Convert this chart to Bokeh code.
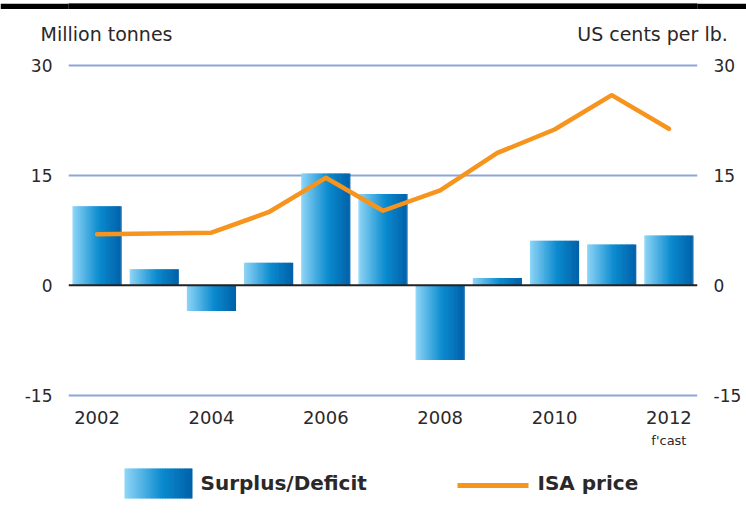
from bokeh.plotting import figure
from bokeh.models import (Range1d, LinearAxis, FixedTicker, Span,
                          ColumnDataSource)
from bokeh.core.properties import value
from bokeh.layouts import column
from bokeh.embed import file_html
from bokeh.resources import INLINE

# ---- data ----
years = [2002, 2003, 2004, 2005, 2006, 2007, 2008, 2009, 2010, 2011, 2012]
surplus = [10.8, 2.2, -3.5, 3.1, 15.3, 12.5, -10.2, 1.0, 6.1, 5.6, 6.8]
isa_price = [7.0, 7.1, 7.2, 10.0, 14.7, 10.2, 13.0, 18.1, 21.3, 26.0, 21.4]
y_ticks = [-15, 0, 15, 30]
x_ticks = [2002, 2004, 2006, 2008, 2010, 2012]
forecast_year = 2012
left_title = "Million tonnes"
right_title = "US cents per lb."
forecast_note = "f'cast"
legend_labels = ["Surplus/Deficit", "ISA price"]

FONT = "DejaVu Sans"
TXT = "#2b2829"
ORANGE = "#f7941d"
GRID = "#8ea5d8"
W = 746
FL, FR = 68, 697          # plot frame, page pixels

STOPS = [(0.0, (0x90, 0xd6, 0xf7)), (0.55, (0x0b, 0x8b, 0xcf)), (1.0, (0x00, 0x60, 0xa9))]


def grad(t):
    for (t0, c0), (t1, c1) in zip(STOPS[:-1], STOPS[1:]):
        if t <= t1:
            f = (t - t0) / (t1 - t0)
            c = [round(a + (b - a) * f) for a, b in zip(c0, c1)]
            return "#%02x%02x%02x" % tuple(c)
    return "#%02x%02x%02x" % STOPS[-1][1]


def strip_fig(h, fill):
    f = figure(width=W, height=h, output_backend="svg", toolbar_location=None,
               x_range=Range1d(FL, FR), y_range=Range1d(h, 0),
               min_border_left=FL, min_border_right=W - FR,
               min_border_top=0, min_border_bottom=0,
               outline_line_color=None, background_fill_color=fill,
               border_fill_color=fill)
    f.axis.visible = False
    f.grid.visible = False
    return f


# ---- black band on top ----
HB = 9
hd = strip_fig(HB, "black")
hd.quad(left=[FL], right=[FR], top=[0], bottom=[HB], fill_color="black",
        line_color=None)

# ---- main chart ----
NSTRIP = 40
BAR_W = 0.86

p = figure(width=W, height=450 - HB, output_backend="svg",
           toolbar_location=None,
           x_range=Range1d(2001.5, 2012.5), y_range=Range1d(-15.6, 30.6),
           min_border_left=FL, min_border_right=W - FR,
           min_border_top=61 - HB, min_border_bottom=50,
           outline_line_color=None,
           background_fill_color="white", border_fill_color="white")
p.extra_y_ranges = {"price": Range1d(-15.6, 30.6)}
p.extra_x_ranges = {"hdr": Range1d(FL, FR)}

xs, tops, cols, ws = [], [], [], []
sw = BAR_W / NSTRIP
for i in range(NSTRIP):
    t = (i + 0.5) / NSTRIP
    off = -BAR_W / 2 + (i + 0.5) * sw
    for yr, v in zip(years, surplus):
        xs.append(yr + off)
        tops.append(v)
        cols.append(grad(t))
        ws.append(sw * 1.6 if 0 < i < NSTRIP - 1 else sw)
src = ColumnDataSource(dict(x=xs, top=tops, color=cols, w=ws))
p.vbar(x="x", top="top", bottom=0, width="w", fill_color="color",
       line_color=None, source=src)

p.add_layout(Span(location=0, dimension="width", line_color="#222222",
                  line_width=2))

p.line(years, isa_price, y_range_name="price", line_color=ORANGE,
       line_width=4.5, line_join="round", line_cap="round")


def plain(ax, size, standoff):
    ax.axis_line_color = None
    ax.major_tick_line_color = None
    ax.minor_tick_line_color = None
    ax.major_label_standoff = standoff
    ax.major_label_text_font = FONT
    ax.major_label_text_font_size = size
    ax.major_label_text_color = TXT


tick_text = {t: str(t) for t in y_ticks}
p.yaxis.ticker = FixedTicker(ticks=y_ticks)
p.yaxis.major_label_overrides = tick_text
ra = LinearAxis(y_range_name="price", ticker=FixedTicker(ticks=y_ticks),
                major_label_overrides=tick_text)
p.add_layout(ra, "right")
plain(p.yaxis[0], "17px", 10)
plain(ra, "17px", 10)

p.xaxis.ticker = FixedTicker(ticks=x_ticks)
fa = LinearAxis(ticker=FixedTicker(ticks=[forecast_year]),
                major_label_overrides={forecast_year: forecast_note})
p.add_layout(fa, "below")
plain(p.xaxis[0], "18px", 5)
plain(fa, "13px", 0)

# unit titles, placed above the frame as labels of a top axis
title_pos = [106, 652]
ta = LinearAxis(x_range_name="hdr", ticker=FixedTicker(ticks=title_pos),
                major_label_overrides={title_pos[0]: left_title,
                                       title_pos[1]: right_title})
p.add_layout(ta, "above")
plain(ta, "19px", 11)

p.xgrid.grid_line_color = None
p.ygrid.ticker = FixedTicker(ticks=[-15, 15, 30])
p.ygrid.grid_line_color = GRID
p.ygrid.grid_line_width = 2

# ---- legend footer (x in page pixels) ----
lg = strip_fig(63, "white")
lx0, lx1, ly0, ly1 = 124, 192, 18, 48
n = 40
stw = (lx1 - lx0) / n
lg.quad(left=[lx0 + i * stw for i in range(n)],
        right=[lx0 + (i + 1) * stw + (0.8 if i < n - 1 else 0) for i in range(n)],
        top=[ly0] * n, bottom=[ly1] * n,
        fill_color=[grad((i + 0.5) / n) for i in range(n)], line_color=None)
lg.text(x=[200], y=[32], text=[legend_labels[0]], text_font=value(FONT),
        text_font_size="20px", text_font_style="bold", text_color=TXT,
        text_baseline="middle")
lg.line(x=[457, 528], y=[35, 35], line_color=ORANGE, line_width=5)
lg.text(x=[537], y=[32], text=[legend_labels[1]], text_font=value(FONT),
        text_font_size="20px", text_font_style="bold", text_color=TXT,
        text_baseline="middle")

layout = column(hd, p, lg, spacing=0)
open("out.html", "w").write(file_html(layout, INLINE))
